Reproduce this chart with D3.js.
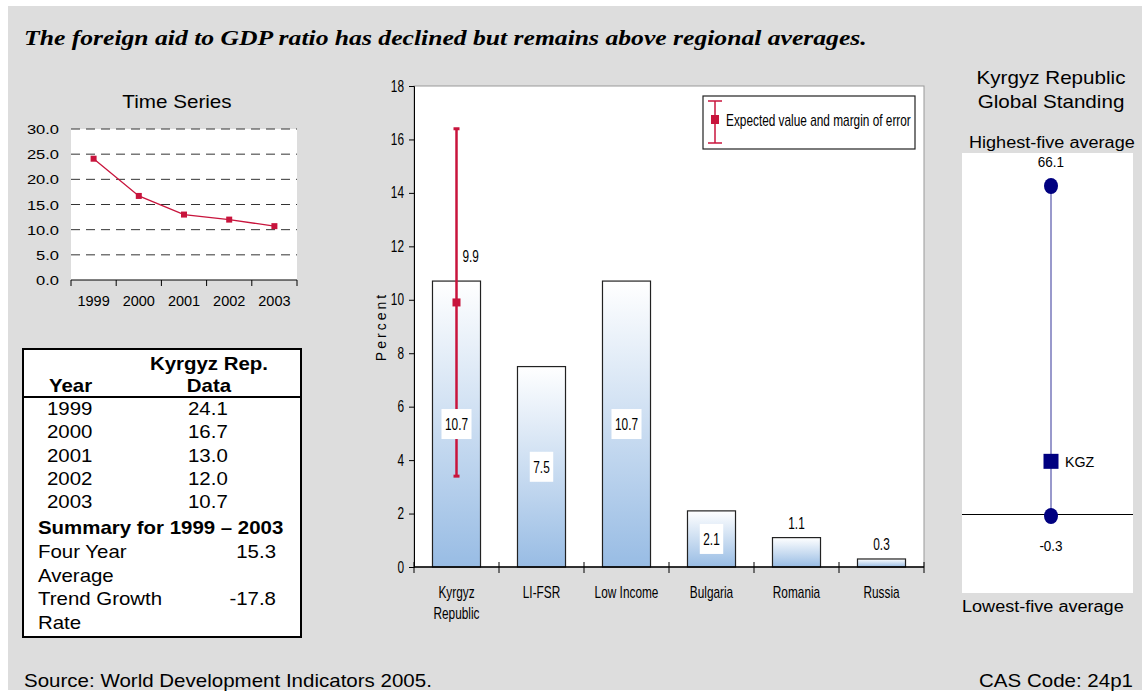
<!DOCTYPE html>
<html>
<head>
<meta charset="utf-8">
<script src="https://cdn.jsdelivr.net/npm/d3@7"></script>
<style>
  html, body { margin: 0; padding: 0; background: #ffffff; }
  svg { display: block; }
  text { font-family: Arial, "Liberation Sans", sans-serif; fill: #000; }
</style>
</head>
<body>
<svg id="chart" width="1142" height="694"></svg>
<script>
// ---- data ----
const years = ["1999", "2000", "2001", "2002", "2003"];
const aidRatio = [24.1, 16.7, 13.0, 12.0, 10.7];
const tsTicks = [0, 5, 10, 15, 20, 25, 30];

const summaryLabels = [["Four Year", "Average"], ["Trend Growth", "Rate"]];
const summaryValues = ["15.3", "-17.8"];

const groups = [["Kyrgyz", "Republic"], ["LI-FSR"], ["Low Income"], ["Bulgaria"], ["Romania"], ["Russia"]];
const groupValues = [10.7, 7.5, 10.7, 2.1, 1.1, 0.3];
const barTicks = [0, 2, 4, 6, 8, 10, 12, 14, 16, 18];
const expectedValue = 9.9;
const errorRange = [3.4, 16.4];

const standingLabels = ["Highest-five average", "KGZ", "Lowest-five average"];
const standingValues = [66.1, 10.7, -0.3];

const red = "#c8143c";
const navy = "#000080";
const fmt1 = v => v.toFixed(1);

const svg = d3.select("#chart");

// text helper: places a label with an optional horizontal stretch
function label(parent, x, y, s, o = {}) {
  const sx = o.sx || 1;
  const t = parent.append("text")
    .attr("transform", `translate(${x},${y}) scale(${sx},1)`)
    .attr("text-anchor", o.anchor || "start")
    .style("font-size", (o.size || 14) + "px")
    .text(s);
  if (o.weight) t.style("font-weight", o.weight);
  if (o.style) t.style("font-style", o.style);
  if (o.family) t.style("font-family", o.family);
  return t;
}
const NARROW = { size: 16, sx: 0.74 };

// grey backdrop
svg.append("rect").attr("x", 8).attr("y", 6).attr("width", 1134).attr("height", 684).attr("fill", "#dddddd");

// headline
label(svg, 24, 45, "The foreign aid to GDP ratio has declined but remains above regional averages.", {
  size: 22, sx: 1.166, weight: "bold", style: "italic",
  family: "'Liberation Serif', 'Times New Roman', serif"
});

// ---- time series panel ----
(function () {
  const x = d3.scaleBand().domain(years).range([71, 297]);
  const y = d3.scaleLinear().domain([0, 30]).range([280, 129]);
  const g = svg.append("g");

  label(g, 177, 108, "Time Series", { size: 18, sx: 1.147, anchor: "middle" });

  g.append("rect").attr("x", 71).attr("y", y(30)).attr("width", 226).attr("height", y(0) - y(30)).attr("fill", "#fff");

  g.selectAll(".grid").data(tsTicks.filter(d => d > 0)).join("line")
    .attr("x1", 71).attr("x2", 297).attr("y1", d => y(d)).attr("y2", d => y(d))
    .attr("stroke", "#333").attr("stroke-width", 1).attr("stroke-dasharray", "9,6");

  tsTicks.forEach(v => label(g, 59, y(v) + 5, fmt1(v), { size: 13, sx: 1.27, anchor: "end" }));

  // x axis: boundary ticks between year bands
  g.append("line").attr("x1", 71).attr("x2", 297).attr("y1", 280).attr("y2", 280).attr("stroke", "#000");
  const bounds = years.map(d => x(d)).concat([x(years[years.length - 1]) + x.step()]);
  g.selectAll(".xt").data(bounds).join("line")
    .attr("x1", d => d).attr("x2", d => d).attr("y1", 280).attr("y2", 286).attr("stroke", "#000");
  years.forEach(d => label(g, x(d) + x.bandwidth() / 2, 306, d, { size: 14.5, anchor: "middle" }));

  const line = d3.line().x((d, i) => x(years[i]) + x.bandwidth() / 2).y(d => y(d));
  g.append("path").datum(aidRatio).attr("d", line).attr("fill", "none").attr("stroke", red).attr("stroke-width", 1.3);
  g.selectAll(".pt").data(aidRatio).join("rect")
    .attr("x", (d, i) => x(years[i]) + x.bandwidth() / 2 - 3).attr("y", d => y(d) - 3)
    .attr("width", 6).attr("height", 6).attr("fill", red);
})();

// ---- data table ----
(function () {
  const g = svg.append("g");
  g.append("rect").attr("x", 23).attr("y", 349).attr("width", 278).attr("height", 288)
    .attr("fill", "#fff").attr("stroke", "#000").attr("stroke-width", 2);
  g.append("line").attr("x1", 23).attr("x2", 301).attr("y1", 397).attr("y2", 397).attr("stroke", "#000").attr("stroke-width", 2);

  const T = { size: 18, sx: 1.135 };
  const TB = Object.assign({ weight: "bold" }, T);
  label(g, 209, 370, "Kyrgyz Rep.", Object.assign({ anchor: "middle" }, TB));
  label(g, 49, 392, "Year", TB);
  label(g, 209, 392, "Data", Object.assign({ anchor: "middle" }, TB));

  years.forEach((yr, i) => {
    const ty = 415 + i * 23.3;
    label(g, 47, ty, yr, T);
    label(g, 188, ty, fmt1(aidRatio[i]), T);
  });

  label(g, 38, 534, "Summary for " + years[0] + " \u2013 " + years[years.length - 1], TB);

  summaryLabels.forEach((lines, i) => {
    const ty = 558 + i * 47;
    lines.forEach((t, j) => label(g, 38, ty + j * 23.5, t, T));
    label(g, 276, ty, summaryValues[i], Object.assign({ anchor: "end" }, T));
  });
})();

// ---- comparison bar chart ----
(function () {
  const left = 414, right = 924, top = 86, bottom = 567;
  const names = groups.map(d => d.join(" "));
  const x = d3.scaleBand().domain(names).range([left, right]).paddingInner(0.435).paddingOuter(0.2175);
  const y = d3.scaleLinear().domain([0, 18]).range([bottom, top]);
  const g = svg.append("g");

  const defs = svg.append("defs");
  const grad = defs.append("linearGradient").attr("id", "barFill").attr("x1", 0).attr("y1", 0).attr("x2", 0).attr("y2", 1);
  grad.append("stop").attr("offset", "0%").attr("stop-color", "#ffffff");
  grad.append("stop").attr("offset", "100%").attr("stop-color", "#98bce4");

  g.append("rect").attr("x", left).attr("y", top).attr("width", right - left).attr("height", bottom - top)
    .attr("fill", "#fff").attr("stroke", "#999").attr("stroke-width", 1);

  const ya = d3.axisLeft(y).tickValues(barTicks).tickSize(5).tickFormat("");
  g.append("g").attr("transform", `translate(${left},0)`).call(ya)
    .call(s => s.select(".domain").attr("stroke", "#000"))
    .call(s => s.selectAll("line").attr("stroke", "#000"));
  barTicks.forEach(v => label(g, 404, y(v) + 5.5, String(v), Object.assign({ anchor: "end" }, NARROW)));

  g.append("text").attr("transform", `translate(386,${(top + bottom) / 2}) rotate(-90)`)
    .attr("text-anchor", "middle").style("font-size", "14px").style("letter-spacing", "3px").text("Percent");

  // bars
  g.selectAll(".bar").data(groupValues).join("rect")
    .attr("x", (d, i) => x(names[i])).attr("y", d => y(d))
    .attr("width", x.bandwidth()).attr("height", d => bottom - y(d))
    .attr("fill", "url(#barFill)").attr("stroke", "#222").attr("stroke-width", 1.2);

  // x axis with ticks on band boundaries
  g.append("line").attr("x1", left).attr("x2", right).attr("y1", bottom).attr("y2", bottom).attr("stroke", "#000").attr("stroke-width", 1.5);
  const step = x.step();
  const bounds = d3.range(names.length + 1).map(i => left + i * step);
  g.selectAll(".bt").data(bounds).join("line")
    .attr("x1", d => d).attr("x2", d => d).attr("y1", bottom - 5).attr("y2", bottom + 6).attr("stroke", "#000");

  groups.forEach((lines, i) => {
    lines.forEach((t, j) => label(g, x(names[i]) + x.bandwidth() / 2, 598 + j * 21, t,
      Object.assign({ anchor: "middle" }, NARROW)));
  });

  // error bar for the expected value
  const cx = x(names[0]) + x.bandwidth() / 2;
  g.append("line").attr("x1", cx).attr("x2", cx).attr("y1", y(errorRange[1])).attr("y2", y(errorRange[0]))
    .attr("stroke", red).attr("stroke-width", 2.5);
  errorRange.forEach(v => g.append("line").attr("x1", cx - 3).attr("x2", cx + 3).attr("y1", y(v)).attr("y2", y(v))
    .attr("stroke", red).attr("stroke-width", 3));

  // value labels
  groupValues.forEach((v, i) => {
    const bx = x(names[i]) + x.bandwidth() / 2;
    const inside = v >= 2;
    const ty = inside ? y(v / 2) : y(v) - 15;
    const t = label(g, bx, ty + 6, fmt1(v), Object.assign({ anchor: "middle" }, NARROW));
    if (inside) {
      const w = t.node().getComputedTextLength() * NARROW.sx + 7;
      g.insert("rect", () => t.node()).attr("x", bx - w / 2).attr("y", ty - 15).attr("width", w).attr("height", 30).attr("fill", "#fff");
    }
  });

  g.append("rect").attr("x", cx - 4).attr("y", y(expectedValue) - 4).attr("width", 8).attr("height", 8).attr("fill", red);
  label(g, cx + 6, y(expectedValue) - 40, fmt1(expectedValue), NARROW);

  // legend
  const lg = g.append("g");
  lg.append("rect").attr("x", 703).attr("y", 96).attr("width", 212).attr("height", 53)
    .attr("fill", "#fff").attr("stroke", "#222").attr("stroke-width", 1.2);
  lg.append("line").attr("x1", 715).attr("x2", 715).attr("y1", 101).attr("y2", 143).attr("stroke", red).attr("stroke-width", 1.5);
  [101, 143].forEach(v => lg.append("line").attr("x1", 708).attr("x2", 722).attr("y1", v).attr("y2", v).attr("stroke", red).attr("stroke-width", 1.5));
  lg.append("rect").attr("x", 711).attr("y", 115).attr("width", 8).attr("height", 9).attr("fill", red);
  label(lg, 726, 126, "Expected value and margin of error", NARROW);
})();

// ---- global standing panel ----
(function () {
  const cx = 1051;
  const y = d3.scaleLinear().domain([standingValues[2], standingValues[0]]).range([516, 186]);
  const g = svg.append("g");

  label(g, 1051, 84, "Kyrgyz Republic", { size: 18, sx: 1.146, anchor: "middle" });
  label(g, 1051, 108, "Global Standing", { size: 18, sx: 1.146, anchor: "middle" });
  label(g, 969, 148, standingLabels[0], { size: 16, sx: 1.13 });

  g.append("rect").attr("x", 962).attr("y", 153).attr("width", 171).attr("height", 440).attr("fill", "#fff");
  g.append("line").attr("x1", 962).attr("x2", 1133).attr("y1", y(0)).attr("y2", y(0)).attr("stroke", "#000");

  g.append("line").attr("x1", cx).attr("x2", cx).attr("y1", y(standingValues[0])).attr("y2", y(standingValues[2]))
    .attr("stroke", "#5555aa").attr("stroke-width", 1.2);
  [standingValues[0], standingValues[2]].forEach(v => g.append("ellipse")
    .attr("cx", cx).attr("cy", y(v)).attr("rx", 7).attr("ry", 8).attr("fill", navy));
  g.append("rect").attr("x", cx - 7.5).attr("y", y(standingValues[1]) - 7.5).attr("width", 15).attr("height", 15).attr("fill", navy);

  label(g, cx, y(standingValues[0]) - 19, fmt1(standingValues[0]), { size: 15, sx: 0.9, anchor: "middle" });
  label(g, cx, y(standingValues[2]) + 35, fmt1(standingValues[2]), { size: 15, sx: 0.9, anchor: "middle" });
  label(g, cx + 14, y(standingValues[1]) + 6, standingLabels[1], { size: 15, sx: 0.95 });

  label(g, 962, 612, standingLabels[2], { size: 16, sx: 1.13 });
})();

// ---- footer ----
label(svg, 24, 687, "Source: World Development Indicators 2005.", { size: 18, sx: 1.14 });
label(svg, 1133, 687, "CAS Code: 24p1", { size: 18, sx: 1.14, anchor: "end" });
</script>
</body>
</html>
